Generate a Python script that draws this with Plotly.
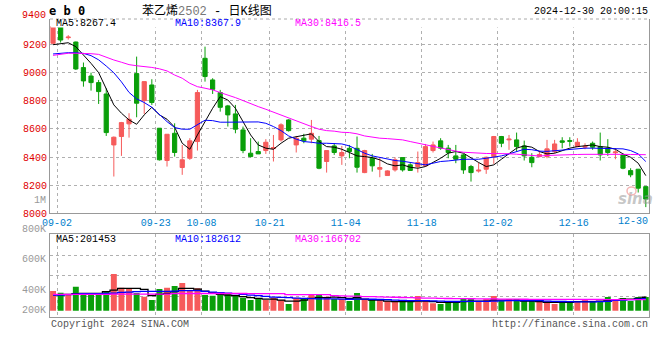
import plotly.graph_objects as go

dates = ["09-02","09-03","09-04","09-05","09-06","09-09","09-10","09-11","09-12","09-13",
         "09-18","09-19","09-20","09-23","09-24","09-25","09-26","09-27","09-30",
         "10-08","10-09","10-10","10-11","10-14","10-15","10-16","10-17","10-18",
         "10-21","10-22","10-23","10-24","10-25","10-28","10-29","10-30","10-31",
         "11-01","11-04","11-05","11-06","11-07","11-08","11-11","11-12","11-13","11-14","11-15",
         "11-18","11-19","11-20","11-21","11-22","11-25","11-26","11-27","11-28","11-29",
         "12-02","12-03","12-04","12-05","12-06","12-09","12-10","12-11","12-12","12-13",
         "12-16","12-17","12-18","12-19","12-20","12-23","12-24","12-25","12-26","12-27","12-30"]

opens = [9210,9330,9250,9219,9037,8977,8930,8849,8486,8546,
         8636,8994,8802,8913,8605,8375,8569,8325,8391,
         8510,9103,8949,8859,8764,8707,8593,8427,8439,
         8446,8460,8522,8664,8486,8534,8527,8517,8368,
         8479,8408,8462,8462,8289,8391,8313,8268,8308,8396,8344,
         8332,8337,8446,8515,8463,8408,8415,8332,8300,8313,
         8403,8546,8522,8522,8479,8398,8403,8403,8439,8515,
         8517,8474,8470,8498,8474,8463,8430,8415,8303,8313,8189]
highs = [9360,9340,9268,9222,9073,9001,8949,8889,8546,8650,
         8712,9115,8937,8954,8605,8562,8640,8486,8534,
         8878,9186,8961,8878,8771,8771,8617,8534,8510,
         8527,8557,8640,8669,8550,8565,8664,8550,8446,
         8498,8479,8486,8546,8451,8422,8398,8305,8398,8396,8356,
         8439,8493,8510,8534,8486,8486,8422,8344,8360,8403,
         8550,8550,8557,8574,8517,8427,8446,8522,8522,8541,
         8541,8534,8498,8510,8574,8527,8463,8422,8320,8315,8192]
lows = [9205,9215,9236,9020,8901,8873,8778,8550,8261,8408,
        8538,8683,8707,8771,8375,8332,8403,8273,8380,
        8446,8937,8849,8723,8617,8569,8427,8398,8422,
        8422,8368,8510,8581,8432,8498,8498,8313,8289,
        8415,8344,8391,8289,8285,8296,8256,8268,8296,8296,8304,
        8289,8332,8432,8451,8391,8356,8280,8225,8289,8280,
        8351,8470,8451,8439,8375,8327,8398,8391,8427,8462,
        8474,8470,8455,8451,8375,8408,8384,8313,8256,8147,8043]
closes = [9330,9233,9254,9027,8942,8930,8866,8574,8541,8645,
          8669,8783,8937,8788,8380,8562,8432,8380,8515,
          8859,8973,8882,8754,8700,8598,8446,8403,8422,
          8505,8467,8629,8588,8534,8515,8569,8320,8446,
          8432,8432,8439,8327,8446,8337,8325,8301,8380,8308,8304,
          8360,8474,8486,8463,8432,8384,8308,8289,8306,8398,
          8546,8498,8527,8474,8408,8360,8418,8458,8493,8505,
          8512,8505,8476,8470,8415,8432,8436,8320,8273,8178,8100]

ma5 = [9200,9205,9214,9186,9127,9067,9001,8890,8771,8712,
       8664,8633,8700,8754,8700,8669,8612,8498,8455,
       8557,8652,8747,8830,8806,8747,8652,8557,8486,
       8463,8455,8498,8534,8546,8555,8565,8510,8474,
       8470,8455,8432,8408,8403,8396,8380,8351,8337,8344,8327,
       8320,8332,8361,8391,8427,8439,8427,8391,8361,8332,
       8344,8384,8422,8463,8479,8470,8439,8422,8427,8446,
       8463,8474,8482,8486,8474,8470,8455,8422,8398,8356,8267.4]
ma10 = [9134,9139,9143,9143,9138,9122,9092,9048,9000,8935,
        8860,8814,8788,8754,8704,8652,8610,8598,8598,
        8629,8662,8659,8648,8648,8648,8650,8650,8650,
        8640,8617,8588,8550,8527,8510,8505,8498,8498,
        8498,8493,8479,8451,8427,8408,8396,8384,8375,8370,8361,
        8351,8344,8356,8368,8372,8380,8384,8384,8384,8391,
        8398,8408,8422,8440,8455,8452,8442,8440,8445,8451,
        8458,8460,8463,8463,8463,8463,8460,8458,8446,8422,8367.9]
ma30 = [9124,9134,9139,9139,9139,9136,9131,9110,9091,9075,
        9058,9050,9045,9038,9028,9013,8984,8961,8925,
        8901,8890,8878,8859,8842,8823,8802,8778,8759,
        8740,8719,8697,8678,8659,8636,8617,8598,8588,
        8584,8576,8574,8565,8550,8541,8534,8531,8527,8522,8510,
        8498,8486,8476,8464,8452,8442,8434,8430,8427,8425,
        8425,8426,8423,8420,8416,8411,8407,8411,8414,8415,
        8416,8418,8419,8420,8420,8421,8420,8419,8418,8417,8416.5]

volumes = [295000,270000,250000,360000,260000,260000,260000,285000,550000,345000,
           335000,265000,210000,160000,325000,345000,370000,415000,295000,
           335000,235000,225000,245000,250000,225000,195000,160000,185000,
           160000,195000,160000,100000,195000,175000,250000,250000,210000,
           175000,175000,145000,265000,175000,175000,175000,145000,145000,145000,145000,
           220000,145000,110000,100000,145000,145000,175000,175000,145000,175000,
           220000,145000,175000,175000,145000,145000,145000,145000,100000,135000,
           145000,145000,160000,145000,145000,205000,160000,190000,145000,205000,205000]
vma5 = [240000,240000,245000,255000,260000,260000,260000,285000,310000,335000,
        335000,335000,320000,225000,245000,260000,285000,335000,335000,
        325000,295000,270000,245000,235000,225000,210000,195000,185000,
        175000,175000,160000,145000,145000,160000,185000,195000,195000,
        205000,195000,185000,195000,175000,160000,160000,145000,135000,135000,135000,
        145000,145000,135000,125000,125000,125000,135000,145000,145000,145000,
        160000,160000,160000,160000,145000,145000,135000,125000,125000,125000,
        125000,135000,135000,135000,145000,155000,160000,175000,175000,185000,201453]
vma10 = [235000,235000,240000,250000,255000,255000,255000,258000,265000,275000,
         280000,285000,290000,290000,290000,290000,295000,300000,300000,
         300000,290000,280000,270000,262000,255000,245000,235000,225000,
         215000,205000,200000,195000,190000,185000,180000,178000,178000,
         178000,175000,172000,175000,175000,172000,168000,165000,160000,155000,152000,
         150000,150000,148000,145000,140000,138000,140000,140000,140000,140000,
         145000,148000,150000,150000,152000,152000,150000,145000,140000,138000,
         135000,132000,132000,133000,135000,140000,155000,160000,165000,172000,182612]
vma30 = [245000,245000,245000,245000,245000,245000,245000,245000,250000,250000,
         250000,250000,250000,250000,250000,250000,258000,258000,258000,
         258000,258000,258000,258000,258000,258000,258000,255000,255000,
         255000,255000,255000,240000,240000,240000,240000,240000,240000,
         225000,222000,220000,218000,212000,210000,208000,205000,202000,198000,195000,
         193000,190000,188000,186000,183000,181000,180000,179000,178000,177000,
         176000,175000,174000,173000,172000,171000,171000,170000,170000,169000,
         169000,169000,168000,168000,168000,167000,167000,167000,167000,167000,166702]

price_ticks = [8000, 8200, 8400, 8600, 8800, 9000, 9200]
date_ticks = ["09-02", "09-23", "10-08", "10-21", "11-04", "11-18", "12-02", "12-16", "12-30"]
vol_labels = ["1M", "800K", "600K", "400K", "200K"]

RED = "#f65b5b"
GREEN = "#0a9f0a"
MONO = "Liberation Mono, DejaVu Sans Mono, monospace"
W, H = 660, 360

def px(x):
    return x / W

def py(y):
    return 1 - y / H

x = list(range(len(dates)))
up = [c >= o for o, c in zip(opens, closes)]
bar_colors = [RED if u else GREEN for u in up]

fig = go.Figure()
fig.add_trace(go.Candlestick(
    x=x, open=opens, high=highs, low=lows, close=closes,
    increasing=dict(line=dict(color=RED, width=1), fillcolor=RED),
    decreasing=dict(line=dict(color=GREEN, width=1), fillcolor=GREEN),
    whiskerwidth=0, hoverinfo="skip", xaxis="x", yaxis="y"))
for vals, col in [(ma5, "#000000"), (ma10, "#0000ff"), (ma30, "#ff00ff")]:
    fig.add_trace(go.Scatter(x=x, y=vals, mode="lines", line=dict(color=col, width=1),
                             hoverinfo="skip", xaxis="x", yaxis="y"))

fig.add_trace(go.Bar(x=x, y=volumes, marker=dict(color=bar_colors, line=dict(width=0)),
                     width=0.78, hoverinfo="skip", xaxis="x2", yaxis="y2"))
for vals, col in [(vma5, "#000000"), (vma10, "#0000ff"), (vma30, "#ff00ff")]:
    fig.add_trace(go.Scatter(x=x, y=vals, mode="lines", line=dict(color=col, width=1.3, shape="hvh"),
                             hoverinfo="skip", xaxis="x2", yaxis="y2"))

tickvals = [dates.index(d) + 0.53 for d in date_ticks]
ticktext = [d if d != date_ticks[-1] else "" for d in date_ticks]
xr = [-0.4, 78.46]
grid = dict(showgrid=True, gridcolor="#b0b0b0", griddash="dot", gridwidth=1, zeroline=False,
            automargin=False)

vr = [-99000, 1146000]
vticks = [vr[0] + i * (vr[1] - vr[0]) / 4 for i in (1, 2, 3)]

fig.update_layout(
    width=W, height=H, margin=dict(l=0, r=0, t=0, b=0, autoexpand=False),
    paper_bgcolor="white", plot_bgcolor="white", showlegend=False,
    boxgap=0.21,
    xaxis=dict(domain=[px(50), px(649.3)], range=xr, anchor="y", tickvals=tickvals, ticktext=ticktext,
               tickfont=dict(family=MONO, size=10, color="#0080cc"), ticks="",
               showline=True, linecolor="#999999", linewidth=1, mirror=False,
               rangeslider=dict(visible=False), **grid),
    yaxis=dict(domain=[py(213.3), py(19)], range=[7999, 9383], anchor="x", tickvals=price_ticks,
               tickfont=dict(family=MONO, size=10, color="#e00000"), ticks="",
               showline=True, linecolor="#999999", linewidth=1, mirror=True, **grid),
    xaxis2=dict(domain=[px(50), px(649.3)], range=xr, anchor="y2", tickvals=tickvals,
                showticklabels=False, ticks="", showline=True, linecolor="#999999",
                linewidth=1, mirror=True, **grid),
    yaxis2=dict(domain=[py(317.3), py(234.3)], range=vr, anchor="x2", tickvals=vticks,
                showticklabels=False, ticks="", showline=True, linecolor="#999999",
                linewidth=1, mirror=True, **grid),
)

shapes = [
    dict(type="rect", xref="paper", yref="paper", x0=px(51), x1=px(648.5), y0=py(27.5), y1=py(19.6),
         fillcolor="white", line=dict(width=0), layer="above"),
    dict(type="line", xref="paper", yref="paper", x0=px(50), x1=px(649.3), y0=py(19), y1=py(19),
         line=dict(color="#aaaaaa", width=1, dash="dot"), layer="above"),
    dict(type="circle", xref="paper", yref="paper", x0=px(627), x1=px(636), y0=py(195), y1=py(187),
         line=dict(color="rgba(230,90,90,0.45)", width=1.5), layer="above"),
]
fig.update_layout(shapes=shapes)

def ann(text, x, y, color="#000000", size=10, xanchor="left", family=MONO):
    fig.add_annotation(text=text, x=px(x), y=py(y), xref="paper", yref="paper", showarrow=False,
                       xanchor=xanchor, yanchor="middle", font=dict(family=family, size=size, color=color))

ann("9400", 47.5, 15.5, "#e00000", xanchor="right")
ann("<b>e b 0</b>", 47, 11, size=12, family="DejaVu Sans Mono, monospace")
ann('苯乙烯<span style="color:#777777">2502</span> - 日K线图', 207, 11, size=12,
    xanchor="center", family="Liberation Mono, Noto Sans CJK SC")
ann("2024-12-30 20:00:15", 650, 12, xanchor="right")
ann("MA5:%.1f" % ma5[-1], 54, 23.5, "#000000")
ann("MA10:%.1f" % ma10[-1], 173, 23.5, "#0000ff")
ann("MA30:%.1f" % ma30[-1], 293, 23.5, "#ff00ff")
ann("MA5:%d" % vma5[-1], 54, 239, "#000000")
ann("MA10:%d" % vma10[-1], 173, 239, "#0000ff")
ann("MA30:%d" % vma30[-1], 293, 239, "#ff00ff")
ann(date_ticks[-1], 650, 221.5, "#0080cc", xanchor="right")
for lab, yy in zip(vol_labels, [200.5, 230, 259.5, 290.5, 310.5]):
    ann(lab, 47.5, yy, "#999999", xanchor="right")
ann("Copyright 2024 SINA.COM", 49, 324, "#555555")
ann("http://finance.sina.com.cn", 650, 324, "#555555", xanchor="right")
ann("<b><i>sina</i></b>", 635, 199, "rgba(150,150,150,0.55)", size=15, xanchor="center",
    family="DejaVu Sans, sans-serif")

fig.write_html("out.html", config={"displayModeBar": False},
               post_script="document.body.style.margin='0';document.body.style.overflow='hidden';")
